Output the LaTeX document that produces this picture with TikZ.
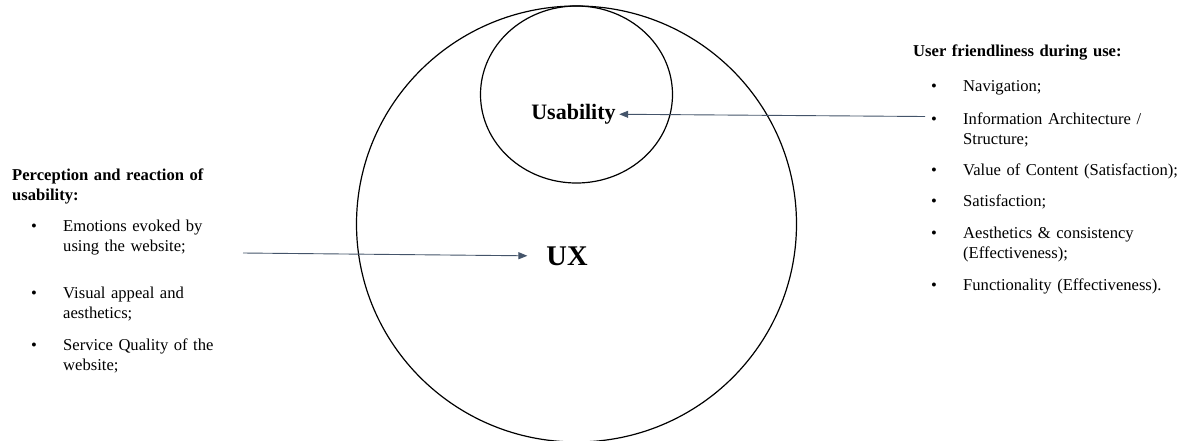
\documentclass[tikz,border=0pt]{standalone}
\usepackage{fontspec}
\setmainfont{Liberation Serif}
\usepackage{xcolor}
\definecolor{arrowGray}{RGB}{68,84,106}
\usetikzlibrary{arrows.meta}

\begin{document}
\begin{tikzpicture}[x=1pt, y=-1pt,
		txt/.style={anchor=base west, inner sep=0pt, text width=240pt, align=left, font=\fontsize{16.6}{20}\selectfont},
		hdr/.style={txt, font=\fontsize{16.6}{20}\selectfont\bfseries},
		arr/.style={-{Triangle[length=9pt,width=7pt]}, arrowGray, line width=0.9pt}]
			\useasboundingbox (0,0) rectangle (1180,440);

			% UX on the outside, Usability inside at the top
			\draw[line width=1.2pt] (576.5,224) ellipse [x radius=220pt, y radius=218pt];
			\draw[line width=1.2pt] (576.5,94.5) ellipse [x radius=96pt, y radius=88.5pt];
			\node[anchor=base, font=\fontsize{28.5}{30}\selectfont\bfseries] (ux) at (567,265) {UX};
			\node[anchor=base, font=\fontsize{22}{24}\selectfont\bfseries] (usab) at (573.5,119.5) {Usability};

			% Left list
			\node[hdr] (leftHead) at (12,180) {Perception and reaction of\\usability:};
			\node[txt] (emotions) at (63,231.7) {Emotions evoked by\\using the website;};
			\node[txt] (visual) at (63,298) {Visual appeal and\\aesthetics;};
			\node[txt] (service) at (63,350) {Service Quality of the\\website;};

			% Right list
			\node[hdr] (rightHead) at (913,56.7) {User friendliness during use:};
			\node[txt] (navig) at (963,91.7) {Navigation;};
			\node[txt] (infoArch) at (963,124) {Information Architecture /\\Structure;};
			\node[txt] (content) at (963,175) {Value of Content (Satisfaction);};
			\node[txt] (satisf) at (963,206.7) {Satisfaction;};
			\node[txt] (aesth) at (963,238) {Aesthetics \& consistency\\(Effectiveness);};
			\node[txt] (funct) at (963,290) {Functionality (Effectiveness).};

			% Bullets
			\foreach \y [count=\i] in {231.7,298,350}
			\node[txt, text width=] (bulL\i) at (31,\y) {•};
			\foreach \y [count=\i] in {91.7,124,175,206.7,238,290}
			\node[txt, text width=] (bulR\i) at (931,\y) {•};

			% Arrows
			\coordinate (tailL) at (243,253);
			\coordinate (tailR) at (925,116.5);
			\draw[arr] (tailL) -- ([xshift=-15.5pt]ux.west);
			\draw[arr] (tailR) -- (usab.east);
		\end{tikzpicture}
\end{document}
